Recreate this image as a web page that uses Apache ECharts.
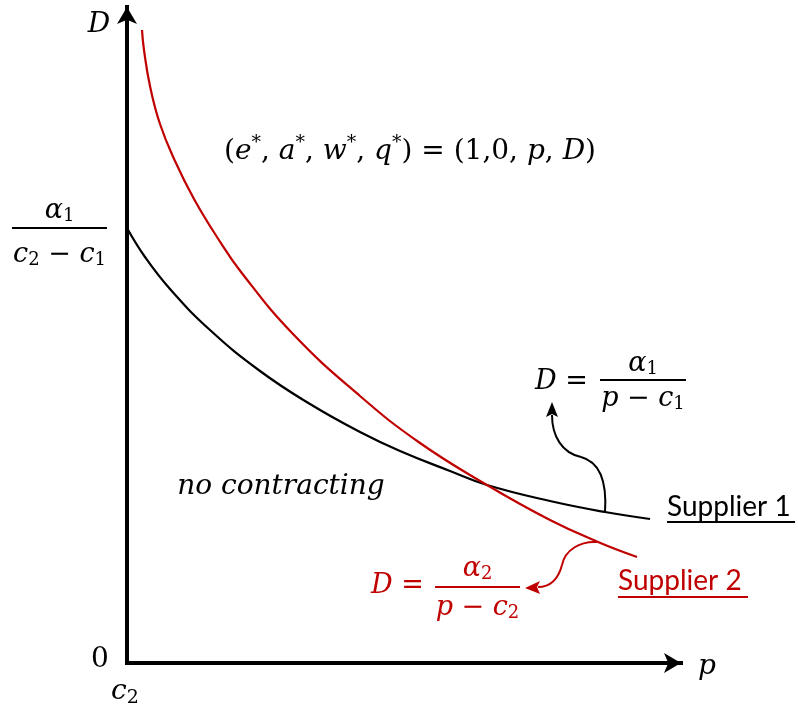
<!DOCTYPE html>
<html>
<head>
<meta charset="utf-8">
<script src="https://cdn.jsdelivr.net/npm/echarts@6/dist/echarts.min.js"></script>
<style>
  html, body { margin: 0; padding: 0; background: #ffffff; }
  #chart { width: 798px; height: 710px; }
</style>
</head>
<body>
<div id="chart"></div>
<script>
// Demand thresholds D(p) for the two suppliers (price measured from c2)
const supplier1Price  = [0, 18, 43, 83, 133, 183, 233, 273, 323, 360, 423, 478, 523];
const supplier1Demand = [435, 406, 374, 333, 292, 259, 231, 212, 192, 178, 162, 151, 144];
const supplier2Price  = [15, 17, 23, 33, 48, 67, 90, 114, 166, 233, 293, 360, 423, 471, 510];
const supplier2Demand = [633, 613, 577, 539, 502, 464, 426, 391, 329, 267, 220, 178, 143, 121, 106];

const axisMaxP = 554;
const axisMaxD = 656;

const RED = '#c00000';
const BLACK = '#000000';
const MATH = '"DejaVu Serif", serif';
const SANS = 'Lato, "Open Sans", sans-serif';

function zip(xs, ys) { return xs.map((x, i) => [x, ys[i]]); }

// rich-text styles for inline math: italic symbols, upright operators, sub/superscripts
function mathRich(size, color) {
  const small = Math.round(size * 0.68);
  return {
    it:  { fontFamily: MATH, fontStyle: 'italic', fontSize: size, fill: color },
    up:  { fontFamily: MATH, fontSize: size, fill: color },
    sub: { fontFamily: MATH, fontSize: small, fill: color, padding: [Math.round(size * 0.42), 0, 0, 0] },
    sup: { fontFamily: MATH, fontSize: small, fill: color, padding: [0, 0, Math.round(size * 0.62), 0] }
  };
}

function mathText(x, y, text, size, color, align) {
  return {
    type: 'text', x: x, y: y, z: 10,
    style: {
      text: text, rich: mathRich(size, color), fill: color,
      align: align || 'center', verticalAlign: 'middle'
    }
  };
}

// stacked fraction: numerator, bar, denominator
function fraction(x1, x2, barY, num, den, numY, denY, size, color) {
  const cx = (x1 + x2) / 2;
  return [
    mathText(cx, numY, num, size, color),
    { type: 'line', z: 10, shape: { x1: x1, y1: barY, x2: x2, y2: barY },
      style: { stroke: color, lineWidth: 2 } },
    mathText(cx, denY, den, size, color)
  ];
}

function curvedArrow(segments, head, color) {
  const els = segments.map(s => ({
    type: 'bezierCurve', z: 10,
    shape: { x1: s[0], y1: s[1], cpx1: s[2], cpy1: s[3], cpx2: s[4], cpy2: s[5], x2: s[6], y2: s[7] },
    style: { stroke: color, lineWidth: 2, fill: null }
  }));
  els.push({ type: 'polygon', z: 10, shape: { points: head }, style: { fill: color } });
  return els;
}

const S = 28;

const graphics = [].concat(
  // axis names
  [mathText(99, 25, '{it|D}', 28, BLACK)],
  [mathText(707, 667, '{it|p}', 28, BLACK)],
  [mathText(100, 660, '{up|0}', 28, BLACK)],
  [mathText(111, 692, '{it|c}{sub|2}', S, BLACK, 'left')],
  // value of D on the vertical axis at p = c2
  fraction(12, 107, 228, '{it|α}{sub|1}', '{it|c}{sub|2}{up| − }{it|c}{sub|1}', 211, 255, 27, BLACK),
  // equilibrium tuple
  [mathText(410, 152,
    '{up|(}{it|e}{sup|*}{up|, }{it|a}{sup|*}{up|, }{it|w}{sup|*}{up|, }{it|q}{sup|*}{up|) = (1,0, }{it|p}{up|, }{it|D}{up|)}',
    S, BLACK)],
  // region label
  [{ type: 'text', x: 281, y: 487, z: 10,
     style: { text: 'no contracting', fontFamily: MATH, fontStyle: 'italic', fontSize: 28,
              fill: BLACK, align: 'center', verticalAlign: 'middle' } }],
  // supplier 1 formula and pointer
  [mathText(535, 382, '{it|D}{up| =}', 27, BLACK, 'left')],
  fraction(600, 686, 380, '{it|α}{sub|1}', '{it|p}{up| − }{it|c}{sub|1}', 364, 399, 27, BLACK),
  curvedArrow([
    [605, 512, 607, 482, 600, 462, 581, 457],
    [581, 457, 562, 453, 552, 436, 552, 415]
  ], [[552, 402], [558, 417], [552, 414], [546, 417]], BLACK),
  // supplier 2 formula and pointer
  [mathText(371, 586, '{it|D}{up| =}', 27, RED, 'left')],
  fraction(435, 520, 587, '{it|α}{sub|2}', '{it|p}{up| − }{it|c}{sub|2}', 569, 608, 27, RED),
  curvedArrow([
    [597, 542, 580, 541, 565, 550, 562, 565],
    [562, 565, 558, 580, 549, 587, 538, 587]
  ], [[525, 588], [540, 581], [537, 587], [540, 594]], RED),
  // supplier names (underlined)
  [{ type: 'text', x: 667, y: 507, z: 10,
     style: { text: 'Supplier 1', fontFamily: SANS, fontSize: 28, fill: BLACK,
              align: 'left', verticalAlign: 'middle' } },
   { type: 'line', z: 10, shape: { x1: 667, y1: 522, x2: 795, y2: 522 },
     style: { stroke: BLACK, lineWidth: 2 } },
   { type: 'text', x: 618, y: 581, z: 10,
     style: { text: 'Supplier 2', fontFamily: SANS, fontSize: 28, fill: RED,
              align: 'left', verticalAlign: 'middle' } },
   { type: 'line', z: 10, shape: { x1: 618, y1: 597, x2: 748, y2: 597 },
     style: { stroke: RED, lineWidth: 2 } }]
);

const axisCommon = {
  type: 'value',
  min: 0,
  axisLine: {
    show: true, onZero: false,
    symbol: ['none', 'arrow'], symbolSize: [15, 17],
    lineStyle: { color: BLACK, width: 4, cap: 'square' }
  },
  axisTick: { show: false },
  axisLabel: { show: false },
  splitLine: { show: false }
};

const chart = echarts.init(document.getElementById('chart'), null, { renderer: 'canvas' });
chart.setOption({
  animation: false,
  backgroundColor: '#ffffff',
  grid: { left: 127, right: 117, top: 7, bottom: 47, containLabel: false },
  xAxis: Object.assign({}, axisCommon, { max: axisMaxP }),
  yAxis: Object.assign({}, axisCommon, { max: axisMaxD }),
  series: [
    {
      name: 'Supplier 1', type: 'line', smooth: 0.45, showSymbol: false,
      data: zip(supplier1Price, supplier1Demand),
      lineStyle: { color: BLACK, width: 2.2 }, z: 3
    },
    {
      name: 'Supplier 2', type: 'line', smooth: 0.45, showSymbol: false,
      data: zip(supplier2Price, supplier2Demand),
      lineStyle: { color: RED, width: 2.2 }, z: 4
    }
  ],
  graphic: { elements: graphics }
});
</script>
</body>
</html>
